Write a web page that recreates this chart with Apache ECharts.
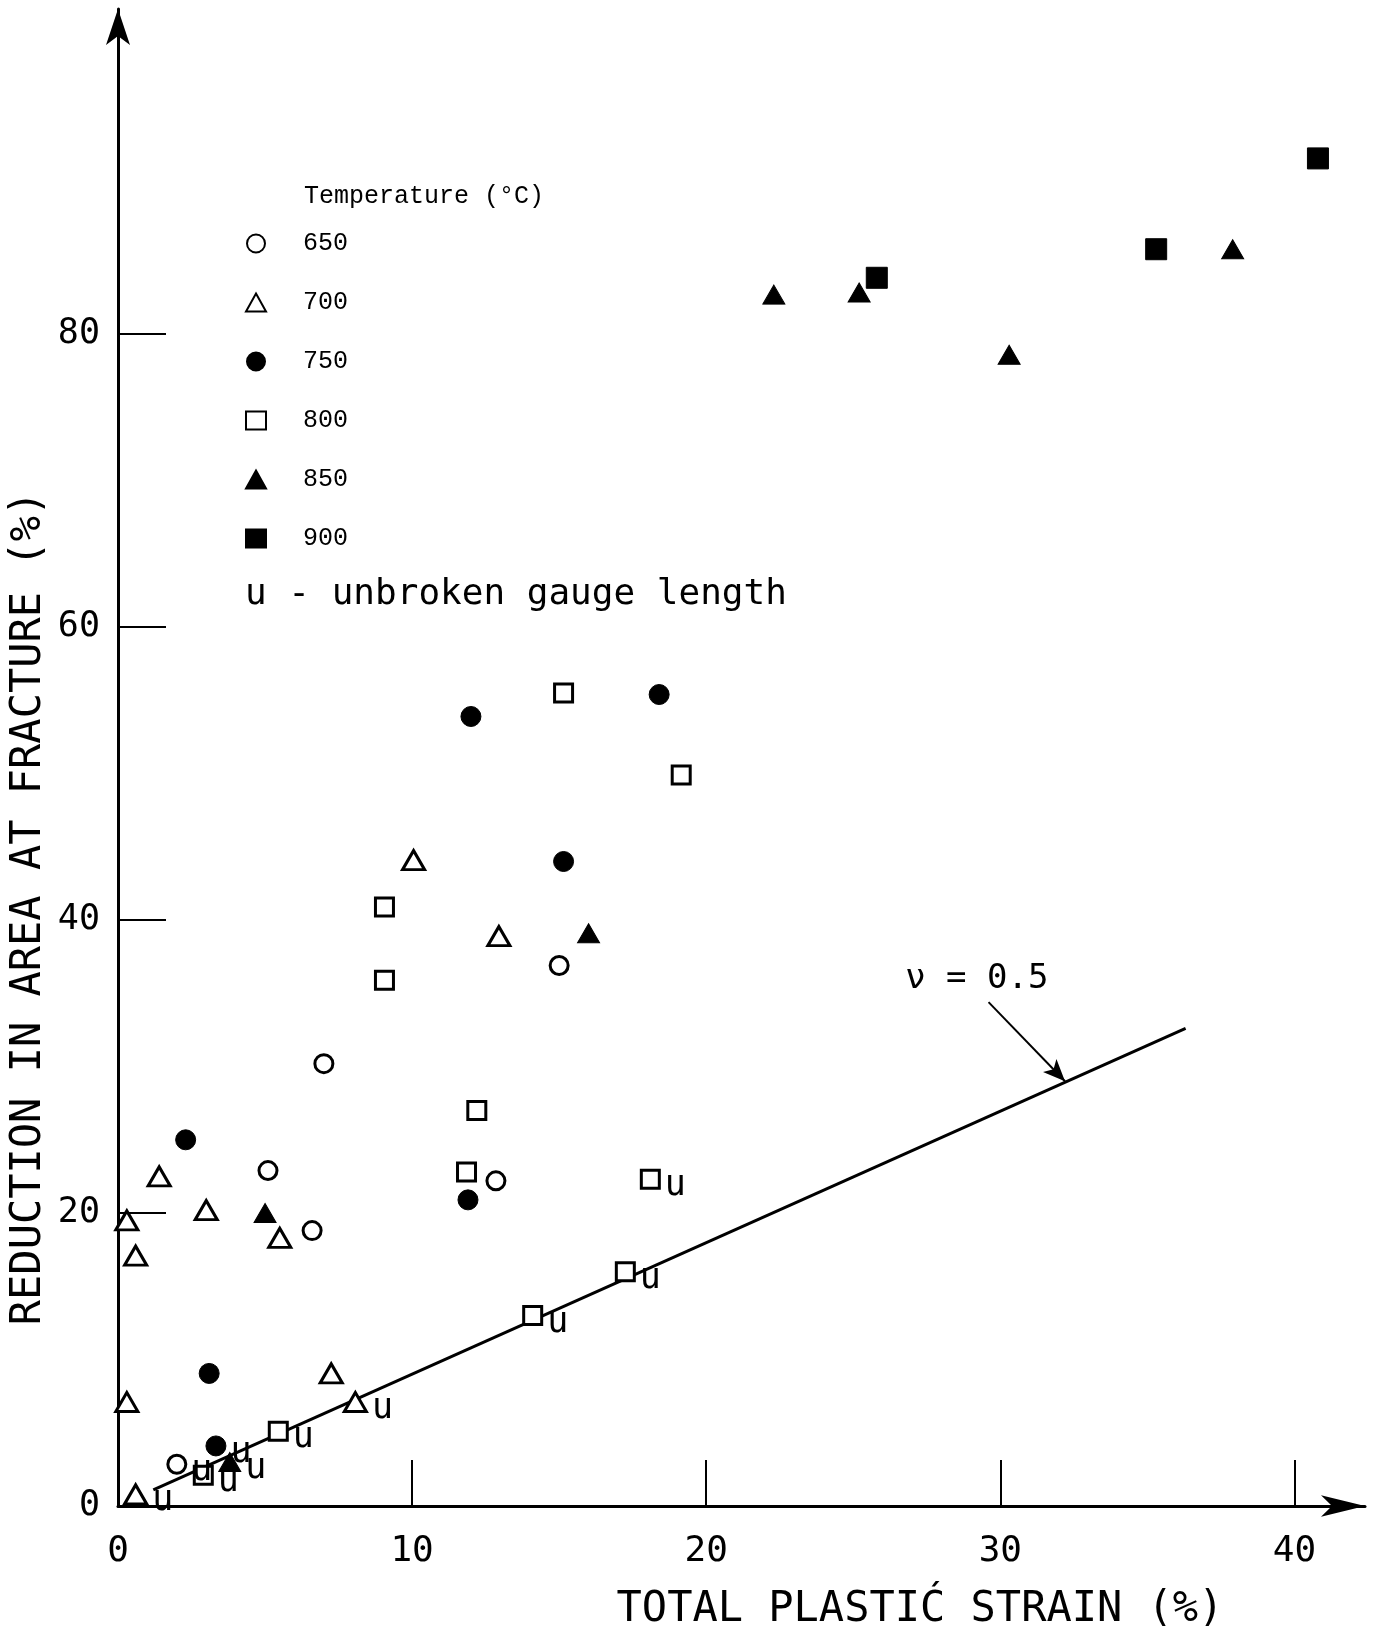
<!DOCTYPE html>
<html>
<head>
<meta charset="utf-8">
<script src="https://cdn.jsdelivr.net/npm/echarts@6/dist/echarts.min.js"></script>
<style>
  html, body { margin: 0; padding: 0; background: #fff; }
  #myChart { width: 1374px; height: 1632px; }
</style>
</head>
<body>
<div id="myChart"></div>
<script>
// [strain %, reduction in area %] per test temperature
var t650 = [[7.0, 30.2], [15.0, 36.9], [5.1, 22.9], [12.85, 22.2], [6.6, 18.8]];
var t650u = [[2.0, 2.85]];
var t700 = [[10.05, 44.1], [12.95, 38.9], [1.4, 22.5], [3.0, 20.2], [0.3, 19.5], [0.6, 17.1], [5.5, 18.3], [7.25, 9.05], [0.3, 7.1]];
var t700u = [[8.07, 7.1], [0.6, 0.8]];
var t750 = [[12.0, 53.9], [18.4, 55.4], [15.15, 44.0], [11.9, 20.9], [2.3, 25.0], [3.1, 9.05]];
var t750u = [[3.33, 4.1]];
var t800 = [[15.15, 55.5], [19.15, 49.9], [9.06, 40.9], [9.06, 35.9], [12.2, 27.0], [11.85, 22.8]];
var t800u = [[18.1, 22.3], [17.25, 16.0], [14.1, 13.0], [5.45, 5.1], [2.9, 2.1]];
var t850 = [[22.3, 82.7], [25.2, 82.85], [30.3, 78.6], [37.9, 85.8], [16.0, 39.1], [5.0, 20.0]];
var t850u = [[3.8, 3.0]];
var t900 = [[25.8, 83.85], [35.3, 85.8], [40.8, 92.0]];

// nu = 0.5 line ends, and the arrow pointing at it
var nuLine = [[1.2, 1.1], [36.3, 32.6]];
var nuArrow = [[29.6, 34.4], [32.2, 29.0]];
var nuText = [29.2, 36.0];

var xTicks = [10, 20, 30, 40];
var xLabels = [0, 10, 20, 30, 40];
var yTicks = [20, 40, 60, 80];
var yLabels = [0, 20, 40, 60, 80];

var mono = "DejaVu Sans Mono";

function points(plain, unbroken) {
  var out = plain.map(function (p) { return { value: p }; });
  unbroken.forEach(function (p) {
    out.push({ value: p, label: { show: true } });
  });
  return out;
}

function scatter(name, symbol, size, filled, plain, unbroken) {
  return {
    name: name,
    type: "scatter",
    symbol: symbol,
    symbolSize: size,
    z: 3,
    itemStyle: filled
      ? { color: "#000", borderColor: "#000", borderWidth: 1, opacity: 1 }
      : { color: "#fff", borderColor: "#000", borderWidth: 3, opacity: 1 },
    label: {
      show: false,
      formatter: "u",
      position: "right",
      distance: 4,
      offset: [0, 7],
      color: "#000",
      fontFamily: mono,
      fontSize: 35,
    },
    emphasis: { disabled: true },
    data: points(plain, unbroken),
  };
}

var chartDom = document.getElementById("myChart");
var myChart = echarts.init(chartDom, null, { renderer: "canvas" });

var option = {
  backgroundColor: "#fff",
  animation: false,
  title: {
    text: "Temperature (°C)",
    left: 299,
    top: 179,
    textStyle: { fontFamily: "Liberation Mono", fontWeight: "normal", fontSize: 25, color: "#000" },
  },
  legend: {
    orient: "vertical",
    left: 240,
    top: 226,
    itemWidth: 20,
    itemHeight: 18,
    itemGap: 34,
    selectedMode: false,
    textStyle: { fontFamily: "Liberation Mono", fontSize: 25, color: "#000", padding: [0, 0, 0, 32] },
    data: ["650", "700", "750", "800", "850", "900"],
  },
  grid: { left: 118, right: 9, top: 9, bottom: 126 },
  xAxis: {
    type: "value",
    min: 0,
    max: 42.4,
    splitLine: { show: false },
    axisLine: {
      lineStyle: { color: "#000", width: 3 },
      symbol: ["none", "arrow"],
      symbolSize: [16, 44],
    },
    axisTick: { inside: true, length: 46, customValues: xTicks, lineStyle: { color: "#000", width: 2 } },
    axisLabel: { customValues: xLabels, margin: 28, color: "#000", fontFamily: mono, fontSize: 36 },
  },
  yAxis: {
    type: "value",
    min: 0,
    max: 102.2,
    splitLine: { show: false },
    axisLine: {
      lineStyle: { color: "#000", width: 3 },
      symbol: ["none", "arrow"],
      symbolSize: [18, 36],
    },
    axisTick: { inside: true, length: 48, customValues: yTicks, lineStyle: { color: "#000", width: 2 } },
    axisLabel: { customValues: yLabels, margin: 18, color: "#000", fontFamily: mono, fontSize: 35 },
  },
  graphic: [
    {
      type: "text",
      x: 29,
      y: 908,
      rotation: Math.PI / 2,
      style: {
        text: "REDUCTION IN AREA AT FRACTURE (%)",
        fill: "#000",
        font: "42px " + mono,
        align: "center",
        verticalAlign: "middle",
      },
    },
    {
      type: "text",
      x: 920,
      y: 1610,
      style: {
        text: "TOTAL PLASTIĆ STRAIN (%)",
        fill: "#000",
        font: "42px " + mono,
        align: "center",
        verticalAlign: "middle",
      },
    },
    {
      type: "text",
      x: 245,
      y: 595,
      style: {
        text: "u - unbroken gauge length",
        fill: "#000",
        font: "36px " + mono,
        align: "left",
        verticalAlign: "middle",
      },
    },
  ],
  series: [
    {
      name: "nu",
      type: "line",
      z: 1,
      symbol: "none",
      silent: true,
      lineStyle: { color: "#000", width: 3 },
      data: nuLine,
      markLine: {
        silent: true,
        symbol: ["none", "arrow"],
        symbolSize: [14, 22],
        label: { show: false },
        lineStyle: { color: "#000", width: 2, type: "solid" },
        data: [[{ coord: nuArrow[0] }, { coord: nuArrow[1] }]],
      },
      markPoint: {
        silent: true,
        symbol: "circle",
        symbolSize: 0,
        label: {
          show: true,
          position: "inside",
          formatter: "ν = 0.5",
          color: "#000",
          fontFamily: mono,
          fontSize: 34,
        },
        data: [{ coord: nuText }],
      },
    },
    scatter("650", "circle", 18, false, t650, t650u),
    scatter("700", "triangle", [22, 19], false, t700, t700u),
    scatter("750", "circle", 20, true, t750, t750u),
    scatter("800", "rect", 18, false, t800, t800u),
    scatter("850", "triangle", [22, 19], true, t850, t850u),
    scatter("900", "rect", 21, true, t900, []),
  ],
};

option && myChart.setOption(option);
</script>
</body>
</html>
